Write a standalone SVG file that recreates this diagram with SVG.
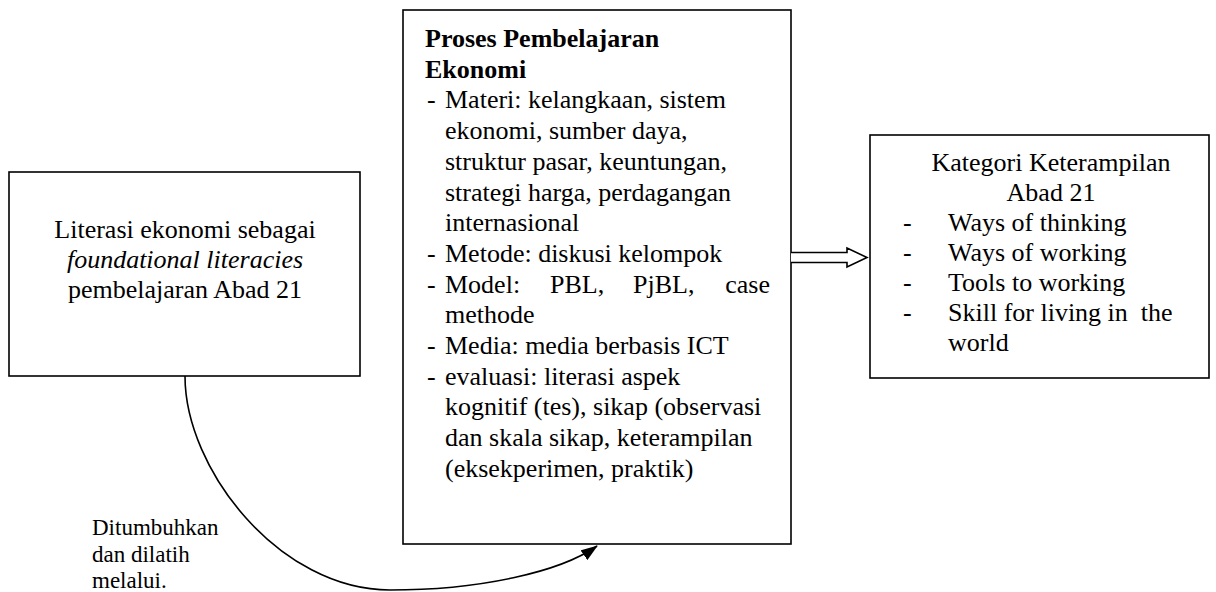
<svg xmlns="http://www.w3.org/2000/svg" width="1216" height="592" viewBox="0 0 1216 592">
<style>
.box{fill:#fff;stroke:#000;stroke-width:1.6}
.t{font-family:"Liberation Serif","Times New Roman",serif;font-size:26px;fill:#000}
.b{font-weight:bold}
.i{font-style:italic}
.c{text-anchor:middle}
.s{font-size:23px}
.conn{fill:none;stroke:#000;stroke-width:1.6}
</style>
<defs>
<marker id="ah" markerUnits="userSpaceOnUse" viewBox="0 0 17 12" refX="16" refY="6" markerWidth="17" markerHeight="12" orient="auto">
<path d="M0,0 L17,6 L0,12 z" fill="#000"/>
</marker>
</defs>
<rect width="1216" height="592" fill="#fff"/>
<g id="node-literasi">
<rect class="box" x="9" y="172" width="351" height="204"/>
<text class="t c" x="185" y="238">Literasi ekonomi sebagai</text>
<text class="t c i" x="185" y="268">foundational literacies</text>
<text class="t c" x="185" y="298">pembelajaran Abad 21</text>
</g>
<g id="node-proses">
<rect class="box" x="403" y="10" width="388" height="534"/>
<text class="t b" x="425" y="47">Proses Pembelajaran</text>
<text class="t b" x="425" y="77.7">Ekonomi</text>
<text class="t" x="427" y="108.4">-</text>
<text class="t" x="445" y="108.4">Materi: kelangkaan, sistem</text>
<text class="t" x="445" y="139.1">ekonomi, sumber daya,</text>
<text class="t" x="445" y="169.8">struktur pasar, keuntungan,</text>
<text class="t" x="445" y="200.5">strategi harga, perdagangan</text>
<text class="t" x="445" y="231.2">internasional</text>
<text class="t" x="427" y="261.9">-</text>
<text class="t" x="445" y="261.9">Metode: diskusi kelompok</text>
<text class="t" x="427" y="292.6">-</text>
<text class="t" x="445" y="292.6">Model:</text>
<text class="t" x="550" y="292.6">PBL,</text>
<text class="t" x="633" y="292.6">PjBL,</text>
<text class="t" x="770" y="292.6" text-anchor="end">case</text>
<text class="t" x="445" y="323.3">methode</text>
<text class="t" x="427" y="354">-</text>
<text class="t" x="445" y="354">Media: media berbasis ICT</text>
<text class="t" x="427" y="384.7">-</text>
<text class="t" x="445" y="384.7">evaluasi: literasi aspek</text>
<text class="t" x="445" y="415.4">kognitif (tes), sikap (observasi</text>
<text class="t" x="445" y="446.1">dan skala sikap, keterampilan</text>
<text class="t" x="445" y="476.8">(eksekperimen, praktik)</text>
</g>
<g id="node-kategori">
<rect class="box" x="870" y="135" width="339" height="243"/>
<text class="t c" x="1051" y="171">Kategori Keterampilan</text>
<text class="t c" x="1051" y="201">Abad 21</text>
<text class="t" x="903" y="231">-</text>
<text class="t" x="948" y="231">Ways of thinking</text>
<text class="t" x="903" y="261">-</text>
<text class="t" x="948" y="261">Ways of working</text>
<text class="t" x="903" y="291">-</text>
<text class="t" x="948" y="291">Tools to working</text>
<text class="t" x="903" y="321">-</text>
<text class="t" x="948" y="321">Skill for living in&#160; the</text>
<text class="t" x="948" y="351">world</text>
</g>
<g id="connectors">
<path class="conn" d="M185,376 C185,470 280,590 390,590 C480,590 560,572 597,546" marker-end="url(#ah)"/>
<path d="M791,252.5 H847 V248 L867,257.5 L847,267 V262.5 H791" fill="#fff" stroke="#000" stroke-width="1.6" stroke-linejoin="miter"/>
<text class="t s" x="92" y="535">Ditumbuhkan</text>
<text class="t s" x="92" y="561.5">dan dilatih</text>
<text class="t s" x="92" y="588">melalui.</text>
</g>
</svg>
